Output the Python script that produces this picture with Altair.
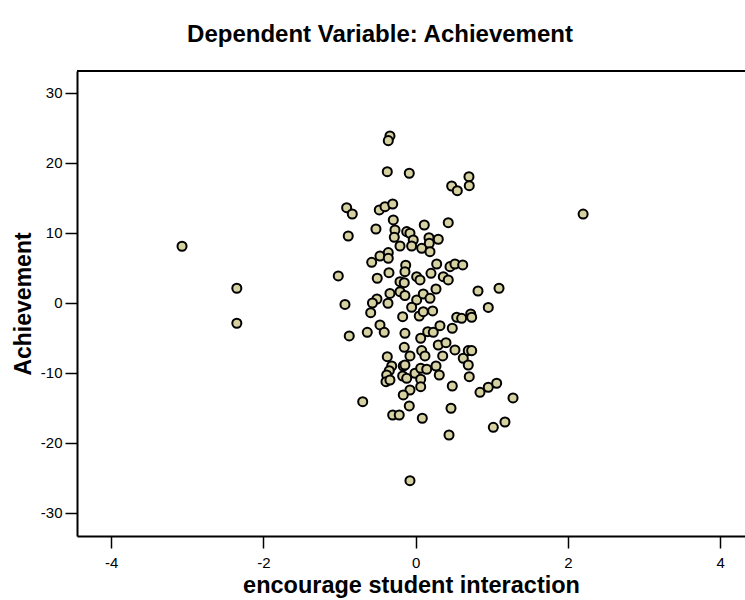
import altair as alt
import pandas as pd

# Partial regression plot values (encourage student interaction residual vs Achievement residual)
x_vals = [
    -0.338, -0.360, -0.373, -0.084, 0.473, 0.547, 0.700, 0.704, -0.907, -0.833,
    -0.478, -0.403, -0.302, -0.294, -0.522, 0.113, 0.428, -0.886, -0.272, -0.281,
    -0.118, -0.075, -0.032, -0.206, -0.053, 0.079, 0.175, 0.297, 0.179, 0.188,
    -0.469, -0.360, -0.360, -0.578, -1.017, -0.505, -0.351, -0.131, -0.141, 0.013,
    0.057, -0.206, -0.150, 0.276, 0.201, 0.363, 0.428, 0.451, 0.516, 0.618,
    0.819, 1.095, -0.929, -0.338, -0.509, -0.568, -0.364, -0.206, -0.141, 0.013,
    0.100, 0.188, 0.267, 0.954, -0.591, -0.171, -0.053, 0.047, 0.100, 0.223,
    0.539, 0.604, 0.723, 0.736, -0.873, -0.636, -0.469, -0.413, -0.141, 0.066,
    0.158, 0.231, 0.319, 0.481, -0.150, -0.075, 0.079, 0.122, 0.297, 0.398,
    0.355, 0.516, 0.625, 0.691, 0.736, 0.691, 0.704, -0.373, -0.315, -0.347,
    -0.381, -0.390, -0.338, -0.163, -0.141, -0.171, -0.118, -0.009, 0.066, 0.145,
    0.267, 0.310, 0.066, 0.066, -0.075, -0.163, -0.084, -0.696, -0.302, -0.216,
    0.087, 0.481, 0.464, 0.438, 0.845, 0.954, 1.064, 1.020, -0.075, 1.173,
    1.279, -3.07, -2.35, -2.35, 2.20,
]
y_vals = [
    23.86, 23.19, 18.76, 18.53, 16.71, 16.04, 18.04, 16.76, 13.61, 12.71,
    13.29, 13.76, 14.14, 11.86, 10.57, 11.14, 11.47, 9.57, 10.43, 9.39,
    10.19, 9.96, 9.00, 8.14, 8.14, 7.81, 9.33, 9.10, 8.53, 7.33,
    6.71, 7.19, 6.39, 5.81, 3.86, 3.53, 4.33, 5.39, 4.47, 3.76,
    3.29, 3.04, 2.90, 5.57, 4.24, 3.76, 3.29, 5.19, 5.57, 5.43,
    1.71, 2.10, -0.21, 1.36, 0.57, 0.00, -0.04, 1.61, 1.07, 0.43,
    1.29, 0.67, 2.00, -0.64, -1.39, -1.96, -0.61, -1.86, -1.24, -1.14,
    -2.04, -2.19, -1.57, -2.04, -4.71, -4.19, -3.14, -4.19, -4.33, -5.04,
    -4.10, -4.19, -3.24, -3.61, -6.33, -7.57, -6.81, -7.57, -6.00, -5.67,
    -7.57, -6.71, -7.90, -6.81, -6.81, -8.86, -10.53, -7.67, -9.00, -9.67,
    -10.29, -11.24, -11.00, -9.00, -8.86, -10.43, -10.76, -10.04, -9.33, -9.47,
    -9.00, -10.29, -10.90, -11.96, -12.43, -13.14, -14.71, -14.10, -16.00, -16.00,
    -16.47, -11.86, -15.04, -18.86, -12.76, -12.04, -11.47, -17.76, -25.39, -17.00,
    -13.57, 8.10, 2.10, -2.90, 12.70,
]

x_ticks = [-4, -2, 0, 2, 4]
y_ticks = [-30, -20, -10, 0, 10, 20, 30]

df = pd.DataFrame({"x": x_vals, "y": y_vals})

FONT = "Liberation Sans"
W, H = 668, 465
LABEL_EXPR = "'' + datum.value"

points = alt.Chart(df).mark_point(
    shape="circle", filled=True, size=82, fill="#d6d1a0", stroke="black",
    strokeWidth=2, opacity=1,
).encode(
    x=alt.X("x:Q", scale=alt.Scale(domain=[-4.45, 4.327], nice=False, zero=False),
            axis=alt.Axis(values=x_ticks, title="encourage student interaction",
                          labelExpr=LABEL_EXPR,
                          grid=False, domainColor="black", domainWidth=2,
                          tickColor="black", tickWidth=1.5, tickSize=12,
                          labelFont=FONT, labelFontSize=15, labelColor="black",
                          labelPadding=7, titleFont=FONT, titleFontSize=23.5,
                          titleFontWeight="bold", titleColor="black", titlePadding=3)),
    y=alt.Y("y:Q", scale=alt.Scale(domain=[-33.29, 33.14], nice=False, zero=False),
            axis=alt.Axis(values=y_ticks, title="Achievement", grid=False,
                          labelExpr=LABEL_EXPR,
                          domainColor="black", domainWidth=2, tickColor="black",
                          tickWidth=1.5, tickSize=12, labelFont=FONT, labelFontSize=15,
                          labelColor="black", labelPadding=3, titleFont=FONT,
                          titleFontSize=23, titleFontWeight="bold", titleColor="black",
                          titlePadding=5)),
)

top_frame = alt.Chart(df).mark_rule(color="black", strokeWidth=2).encode(
    x=alt.value(0), x2=alt.value(W), y=alt.value(0)
)

chart = alt.layer(points, top_frame).properties(
    width=W, height=H,
    title=alt.TitleParams("Dependent Variable: Achievement", font=FONT, fontSize=24,
                          fontWeight="bold", color="black", anchor="middle", dx=-31,
                          offset=23),
    padding={"left": 77, "top": 71, "right": 0, "bottom": 64},
    autosize=alt.AutoSizeParams(type="none"),
).configure_view(stroke=None).configure(background="white")

chart.save("out.html", embed_options={"renderer": "svg", "actions": False})
